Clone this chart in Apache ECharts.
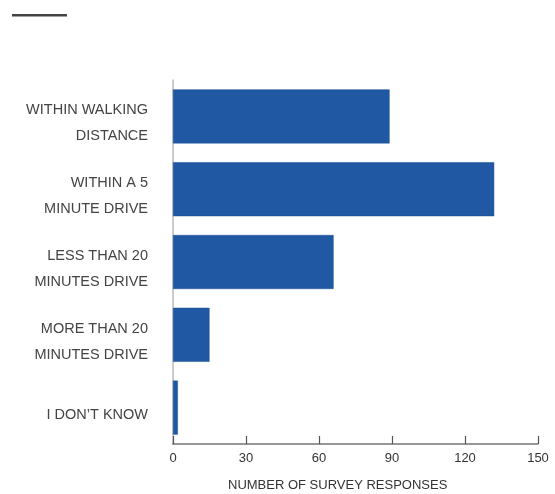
<!DOCTYPE html>
<html><head><meta charset="utf-8">
<script src="https://cdn.jsdelivr.net/npm/echarts@6/dist/echarts.min.js"></script>
<style>html,body{margin:0;padding:0;background:#fff}#c{width:555px;height:494px}</style>
</head><body><div id="c"></div>
<script>
const categories = ["WITHIN WALKING\nDISTANCE", "WITHIN A 5\nMINUTE DRIVE", "LESS THAN 20\nMINUTES DRIVE", "MORE THAN 20\nMINUTES DRIVE", "I DON\u2019T KNOW"];
const responses = [89, 132, 66, 15, 2];
const xTicks = [0, 30, 60, 90, 120, 150];
const axisTitle = "NUMBER OF SURVEY RESPONSES";

const chart = echarts.init(document.getElementById('c'), null, {renderer: 'canvas'});
chart.setOption({
  animation: false,
  backgroundColor: '#fff',
  textStyle: {fontFamily: 'Liberation Sans, Arial, sans-serif'},
  grid: {left: 173, right: 17, top: 80, bottom: 50, containLabel: false},
  xAxis: {
    type: 'value', min: xTicks[0], max: xTicks[xTicks.length - 1], interval: 30,
    axisLine: {show: true, lineStyle: {color: '#777', width: 1.5}},
    axisTick: {show: true, inside: true, length: 8, lineStyle: {color: '#555', width: 1.2}},
    splitLine: {show: false},
    axisLabel: {color: '#333', fontSize: 13, margin: 8}
  },
  yAxis: {
    type: 'category', data: categories, inverse: true,
    axisLine: {show: true, lineStyle: {color: '#bbb', width: 1.5}},
    axisTick: {show: false},
    axisLabel: {
      margin: 25, align: 'right',
      formatter: v => '{s| }\n' + v.split('\n').map(l => '{t|' + l + '}').join('\n'),
      rich: {
        s: {fontSize: 10, lineHeight: 14},
        t: {color: '#444', fontSize: 14.5, lineHeight: 26, fontFamily: 'Liberation Sans, Arial, sans-serif'}
      }
    }
  },
  series: [{
    type: 'bar', data: responses, barWidth: 54,
    itemStyle: {color: '#2158a3', borderColor: '#1d4f94', borderWidth: 0.5}
  }],
  graphic: [
    {type: 'rect', shape: {x: 12, y: 14, width: 55, height: 2.5}, style: {fill: '#444'}},
    {type: 'text', left: 228, top: 479, style: {text: axisTitle, fill: '#333', fontSize: 13, fontFamily: 'Liberation Sans, Arial, sans-serif'}}
  ]
});
</script></body></html>
